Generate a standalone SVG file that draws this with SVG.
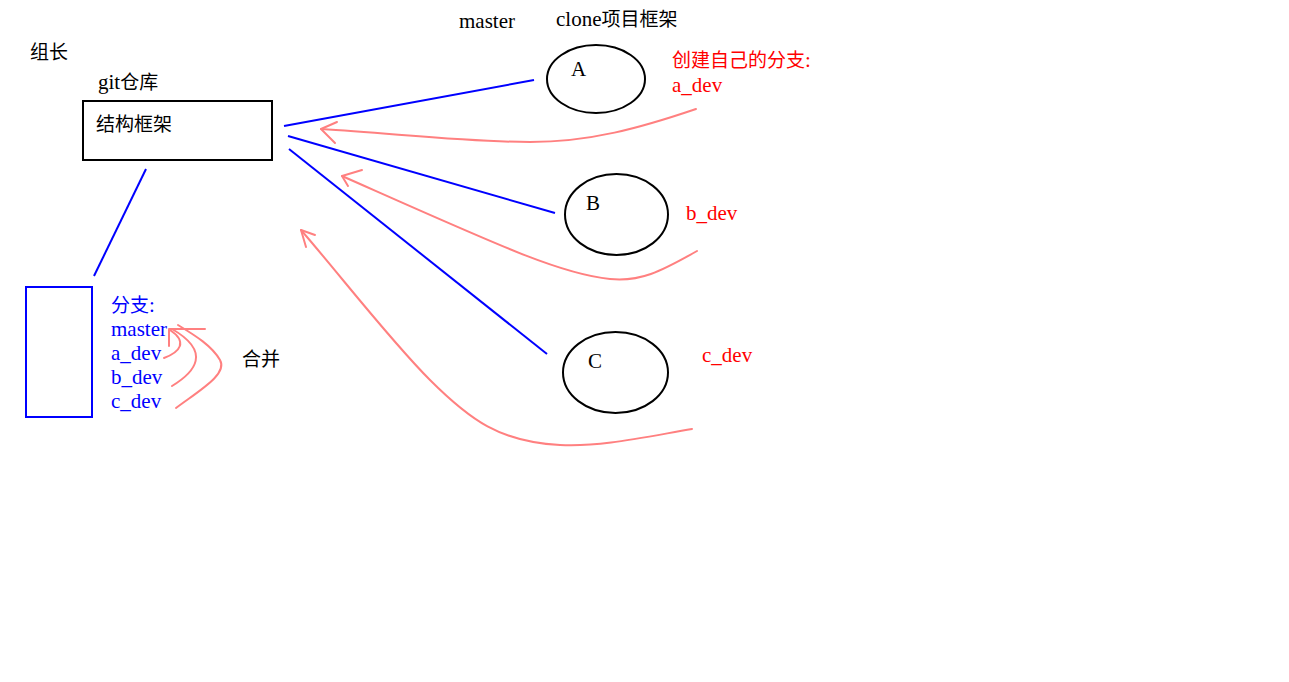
<svg xmlns="http://www.w3.org/2000/svg" width="1289" height="682" viewBox="0 0 1289 682">
<style>
text{font-family:"Liberation Serif","Noto Sans CJK SC",serif;font-size:21px;fill:#000}
.cjk{font-size:19px}
.blue{fill:#0000ff}
.red{fill:#ff0000}
.box{fill:none;stroke:#000;stroke-width:2}
.bbox{fill:none;stroke:#0000ff;stroke-width:2}
.node{fill:#fff;stroke:#000;stroke-width:2}
.bl{fill:none;stroke:#0000ff;stroke-width:2}
.rl{fill:none;stroke:#ff8080;stroke-width:2;stroke-linecap:round;stroke-linejoin:round}
</style>
<rect width="1289" height="682" fill="#fff"/>
<text class="cjk" x="30" y="59">组长</text>
<text x="98" y="89">git<tspan class="cjk">仓库</tspan></text>
<text x="459" y="28">master</text>
<text x="556" y="26">clone<tspan class="cjk">项目框架</tspan></text>
<text class="cjk" x="242" y="366">合并</text>
<g id="repo">
<rect class="box" x="83" y="101" width="189" height="59"/>
<text class="cjk" x="96" y="131">结构框架</text>
</g>
<g id="branches">
<rect class="bbox" x="26" y="287" width="66" height="130"/>
<text class="blue" x="111" y="312"><tspan class="cjk">分支</tspan>:</text>
<text class="blue" x="111" y="336">master</text>
<text class="blue" x="111" y="360">a_dev</text>
<text class="blue" x="111" y="384">b_dev</text>
<text class="blue" x="111" y="408">c_dev</text>
</g>
<g id="nodeA">
<ellipse class="node" cx="596" cy="79" rx="49" ry="34"/>
<text x="571" y="76">A</text>
</g>
<g id="nodeB">
<ellipse class="node" cx="616.5" cy="214.5" rx="51.5" ry="40.5"/>
<text x="586" y="210">B</text>
</g>
<g id="nodeC">
<ellipse class="node" cx="615.5" cy="372.5" rx="52.5" ry="40.5"/>
<text x="588" y="368">C</text>
</g>
<g id="labels">
<text class="red" x="672" y="67"><tspan class="cjk">创建自己的分支</tspan>:</text>
<text class="red" x="672" y="92">a_dev</text>
<text class="red" x="686" y="220">b_dev</text>
<text class="red" x="702" y="362">c_dev</text>
</g>
<g id="connectors">
<line class="bl" x1="146" y1="169" x2="94" y2="276"/>
<line class="bl" x1="284" y1="126" x2="534" y2="80"/>
<line class="bl" x1="288" y1="136" x2="555" y2="213"/>
<line class="bl" x1="289" y1="149" x2="547" y2="354"/>
<path class="rl" d="M696,109 C640,128 590,142 530,142 C470,142 400,134 321,129"/>
<path class="rl" d="M337,122 L321,129 L335,143"/>
<path class="rl" d="M697,251 C660,272 640,282 610,279 C560,274 500,246 342,176"/>
<path class="rl" d="M362,170 L342,176 L348,186"/>
<path class="rl" d="M692,429 C640,438 600,447 560,445 C500,442 470,420 430,380 C390,340 340,275 301,230"/>
<path class="rl" d="M315,235 L301,230 L306,247"/>
<path class="rl" d="M164,358 C180,352 188,342 170,330"/>
<path class="rl" d="M172,386 C195,372 212,352 172,329"/>
<path class="rl" d="M176,408 C200,390 228,374 220,360 C212,346 196,336 178,325"/>
<path class="rl" d="M169,346 L169,329 L205,329"/>
</g>
</svg>
